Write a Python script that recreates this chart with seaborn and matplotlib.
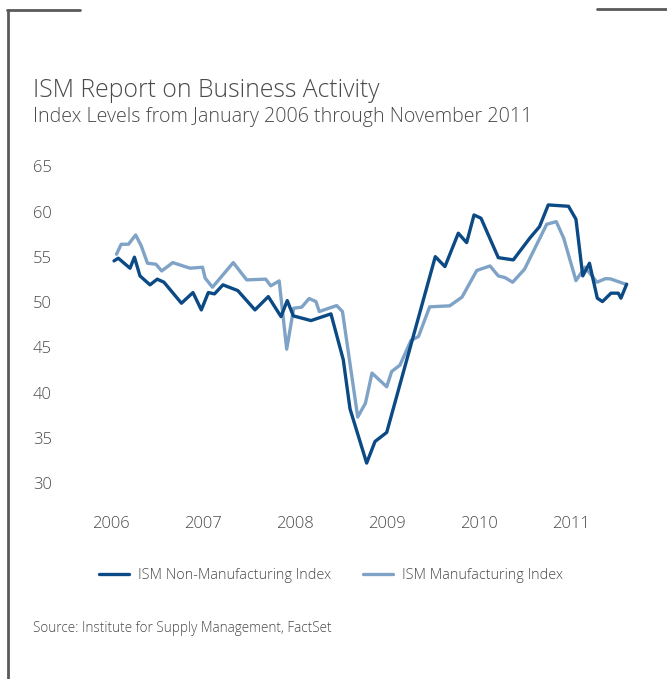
import numpy as np
import pandas as pd
import matplotlib.pyplot as plt
import seaborn as sns
from matplotlib.lines import Line2D

# Decimal-year positions and index levels
non_mfg_x = [2006.033, 2006.079, 2006.207, 2006.255, 2006.315, 2006.424, 2006.503, 2006.576,
             2006.766, 2006.891, 2006.982, 2007.058, 2007.125, 2007.217, 2007.378, 2007.565,
             2007.710, 2007.848, 2007.916, 2007.982, 2008.174, 2008.391, 2008.525, 2008.598,
             2008.779, 2008.870, 2008.997, 2009.525, 2009.630, 2009.775, 2009.866, 2009.946,
             2010.022, 2010.210, 2010.373, 2010.554, 2010.658, 2010.753, 2010.973, 2011.054,
             2011.128, 2011.201, 2011.286, 2011.342, 2011.435, 2011.514, 2011.543, 2011.605]
non_mfg_y = [54.56, 54.86, 53.75, 54.97, 52.90, 51.91, 52.54, 52.20,
             49.88, 51.06, 49.14, 51.06, 50.91, 51.91, 51.28, 49.14,
             50.61, 48.40, 50.17, 48.48, 47.96, 48.70, 43.62, 38.20,
             32.20, 34.59, 35.59, 55.03, 53.93, 57.62, 56.58, 59.64,
             59.28, 54.92, 54.67, 57.10, 58.35, 60.75, 60.60, 59.17,
             52.90, 54.30, 50.44, 50.06, 50.99, 50.99, 50.44, 51.98]

mfg_x = [2006.060, 2006.111, 2006.190, 2006.268, 2006.329, 2006.397, 2006.489, 2006.551,
         2006.672, 2006.859, 2006.995, 2007.024, 2007.103, 2007.329, 2007.475, 2007.682,
         2007.737, 2007.828, 2007.910, 2007.986, 2008.073, 2008.154, 2008.228, 2008.264,
         2008.453, 2008.516, 2008.682, 2008.766, 2008.837, 2008.997, 2009.051, 2009.141,
         2009.261, 2009.342, 2009.464, 2009.682, 2009.815, 2009.976, 2010.120, 2010.210,
         2010.283, 2010.366, 2010.495, 2010.736, 2010.840, 2010.921, 2011.054, 2011.152,
         2011.283, 2011.375, 2011.429, 2011.595]
mfg_y = [55.30, 56.40, 56.40, 57.43, 56.22, 54.30, 54.19, 53.45,
         54.37, 53.75, 53.86, 52.65, 51.65, 54.37, 52.46, 52.54,
         51.80, 52.35, 44.80, 49.33, 49.44, 50.40, 50.06, 48.96,
         49.62, 48.96, 37.29, 38.83, 42.15, 40.64, 42.33, 43.03,
         45.77, 46.19, 49.48, 49.59, 50.55, 53.50, 54.00, 52.90,
         52.71, 52.20, 53.64, 58.61, 58.90, 57.07, 52.38, 53.86,
         52.20, 52.60, 52.57, 51.98]

series_names = ["ISM Non-Manufacturing Index", "ISM Manufacturing Index"]
years = [2006, 2007, 2008, 2009, 2010, 2011]
y_ticks = [30, 35, 40, 45, 50, 55, 60, 65]

df = pd.concat([
    pd.DataFrame({"date": non_mfg_x, "value": non_mfg_y, "series": series_names[0]}),
    pd.DataFrame({"date": mfg_x, "value": mfg_y, "series": series_names[1]}),
])

sns.set_style("white")
plt.rcParams["font.family"] = ["Open Sans", "DejaVu Sans"]
plt.rcParams["font.weight"] = "light"

dark = "#0b4a84"
light = "#7fa3c7"
txt = "#4a4a4a"

fig = plt.figure(figsize=(6.67, 6.79), dpi=100)
ax = fig.add_axes([0.1526, 0.2887, 0.800, 0.4661])
sns.lineplot(data=df, x="date", y="value", hue="series", hue_order=series_names[::-1],
             palette={series_names[0]: dark, series_names[1]: light},
             linewidth=2.4, ax=ax, legend=False, sort=False)

ax.set_xlim(2005.9, 2011.7)
ax.set_ylim(30, 65)
ax.set_xticks(years)
ax.set_xticklabels([str(y) for y in years])
ax.set_yticks(y_ticks)
ax.set_xlabel("")
ax.set_ylabel("")
for s in ax.spines.values():
    s.set_visible(False)
ax.tick_params(axis="y", length=0, pad=36, labelsize=12, labelcolor=txt)
ax.tick_params(axis="x", length=0, pad=24, labelsize=12, labelcolor=txt)

fig.text(0.049, 0.867, "ISM Report on Business Activity", fontsize=17.8, color=txt, va="center")
fig.text(0.049, 0.828, "Index Levels from January 2006 through November 2011", fontsize=14.1,
         color=txt, va="center")
fig.text(0.049, 0.074, "Source: Institute for Supply Management, FactSet", fontsize=9.75,
         color=txt, va="center")

handles = [Line2D([], [], color=dark, lw=2.4), Line2D([], [], color=light, lw=2.4)]
fig.legend(handles, series_names, loc="center", bbox_to_anchor=(0.496, 0.152), ncol=2,
           frameon=False, fontsize=10.4, labelcolor=txt, handlelength=2.1,
           columnspacing=2.2, handletextpad=0.6)

# frame decoration
frame = "#5a5a5a"
fig.add_artist(Line2D([0.012, 0.012], [0.0, 0.985], color=frame, lw=2, transform=fig.transFigure))
fig.add_artist(Line2D([0.011, 0.12], [0.985, 0.985], color=frame, lw=2, transform=fig.transFigure))
fig.add_artist(Line2D([0.895, 1.0], [0.987, 0.987], color=frame, lw=2, transform=fig.transFigure))

fig.savefig("out.png", dpi=100)
